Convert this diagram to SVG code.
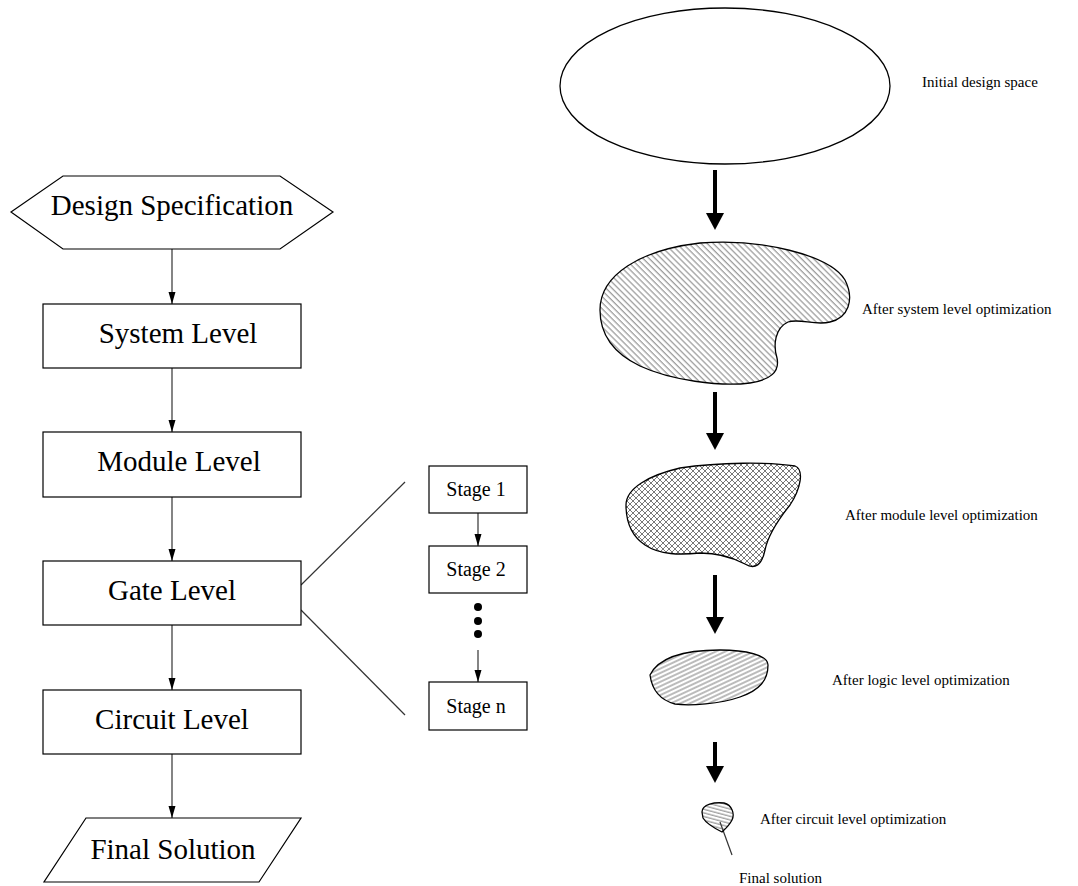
<svg xmlns="http://www.w3.org/2000/svg" width="1078" height="886" viewBox="0 0 1078 886">
<style>
.box{fill:#fff;stroke:#000;stroke-width:1.2}
.big{font-family:"Liberation Serif","Times New Roman",serif;font-size:29px;fill:#000;text-anchor:middle}
.stg{font-family:"Liberation Serif","Times New Roman",serif;font-size:20px;fill:#000;text-anchor:middle}
.lbl{font-family:"Liberation Serif","Times New Roman",serif;font-size:15px;fill:#000}
.thin{stroke:#333;stroke-width:1.2;fill:none}
.thick{stroke:#000;stroke-width:4;fill:none}
.blob{stroke:#000;stroke-width:1.3}
.h{stroke:#555;stroke-width:0.8}
</style>
<defs>
<marker id="ah" markerUnits="userSpaceOnUse" markerWidth="12" markerHeight="8" refX="12" refY="4" orient="auto"><path d="M0,0.5 L12,4 L0,7.5 z" fill="#000"/></marker>
<marker id="ahb" markerUnits="userSpaceOnUse" markerWidth="17" markerHeight="18" refX="0" refY="9" orient="auto"><path d="M0,0 L17,9 L0,18 z" fill="#000"/></marker>
<pattern id="p1" patternUnits="userSpaceOnUse" width="4.3" height="10" patternTransform="rotate(-45)"><line x1="1" y1="0" x2="1" y2="10" class="h"/></pattern>
<pattern id="p2" patternUnits="userSpaceOnUse" width="6" height="6"><path d="M0,0 L6,6 M6,0 L0,6" class="h"/></pattern>
<pattern id="p3" patternUnits="userSpaceOnUse" width="10" height="4" patternTransform="rotate(-25)"><line x1="0" y1="1" x2="10" y2="1" class="h"/></pattern>
<pattern id="p4" patternUnits="userSpaceOnUse" width="10" height="3.5" patternTransform="rotate(15)"><line x1="0" y1="1" x2="10" y2="1" class="h"/></pattern>
</defs>
<rect width="1078" height="886" fill="#fff"/>

<g id="connectors">
<line class="thin" x1="172" y1="249" x2="172" y2="304" marker-end="url(#ah)"/>
<line class="thin" x1="172" y1="368" x2="172" y2="432" marker-end="url(#ah)"/>
<line class="thin" x1="172" y1="497" x2="172" y2="561" marker-end="url(#ah)"/>
<line class="thin" x1="172" y1="625" x2="172" y2="690" marker-end="url(#ah)"/>
<line class="thin" x1="172" y1="754" x2="172" y2="818" marker-end="url(#ah)"/>
<line class="thin" x1="301" y1="585" x2="405" y2="482"/>
<line class="thin" x1="301" y1="610" x2="405" y2="715"/>
<line class="thin" x1="478" y1="513" x2="478" y2="546" marker-end="url(#ah)"/>
<line class="thin" x1="478" y1="650" x2="478" y2="682" marker-end="url(#ah)"/>
<line class="thick" x1="715" y1="170" x2="715" y2="213" marker-end="url(#ahb)"/>
<line class="thick" x1="715" y1="392" x2="715" y2="433" marker-end="url(#ahb)"/>
<line class="thick" x1="715" y1="575" x2="715" y2="617" marker-end="url(#ahb)"/>
<line class="thick" x1="715" y1="742" x2="715" y2="766" marker-end="url(#ahb)"/>
<line class="thin" x1="720" y1="822" x2="732" y2="855"/>
</g>

<g id="design-spec">
<polygon class="box" points="11,212 63,176 280,176 333,212 280,249 63,249"/>
<text class="big" x="172" y="215">Design Specification</text>
</g>
<g id="system-level">
<rect class="box" x="43" y="304" width="258" height="64"/>
<text class="big" x="178" y="343">System Level</text>
</g>
<g id="module-level">
<rect class="box" x="43" y="432" width="258" height="65"/>
<text class="big" x="179" y="471">Module Level</text>
</g>
<g id="gate-level">
<rect class="box" x="43" y="561" width="258" height="64"/>
<text class="big" x="172" y="600">Gate Level</text>
</g>
<g id="circuit-level">
<rect class="box" x="43" y="690" width="258" height="64"/>
<text class="big" x="172" y="729">Circuit Level</text>
</g>
<g id="final-solution">
<polygon class="box" points="86,818 301,818 259,882 44,882"/>
<text class="big" x="173" y="859">Final Solution</text>
</g>

<g id="stage-1">
<rect class="box" x="429" y="466" width="98" height="47"/>
<text class="stg" x="476" y="496">Stage 1</text>
</g>
<g id="stage-2">
<rect class="box" x="429" y="546" width="98" height="47"/>
<text class="stg" x="476" y="576">Stage 2</text>
</g>
<g id="stage-dots">
<circle cx="478" cy="607" r="4"/>
<circle cx="478" cy="621" r="4"/>
<circle cx="478" cy="634" r="4"/>
</g>
<g id="stage-n">
<rect class="box" x="429" y="682" width="98" height="48"/>
<text class="stg" x="476" y="713">Stage n</text>
</g>

<g id="initial-space">
<ellipse cx="725" cy="86" rx="165" ry="78" fill="#fff" stroke="#000" stroke-width="1.3"/>
<text class="lbl" x="922" y="87">Initial design space</text>
</g>
<g id="system-opt">
<path class="blob" fill="url(#p1)" d="M600,310 C600,275 640,250 700,243 C760,238 830,255 845,280 C855,300 848,318 830,322 C815,326 800,318 788,322 C775,328 773,345 777,358 C780,372 770,380 750,383 C720,387 670,380 640,366 C615,354 600,335 600,310 Z"/>
<text class="lbl" x="862" y="314">After system level optimization</text>
</g>
<g id="module-opt">
<path class="blob" fill="url(#p2)" d="M626,505 C626,488 650,475 680,468 C720,462 770,462 795,466 C805,470 800,490 790,505 C778,520 768,535 765,550 C762,565 755,570 745,564 C730,556 715,553 700,553 C680,555 660,555 645,545 C630,535 626,520 626,505 Z"/>
<text class="lbl" x="845" y="520">After module level optimization</text>
</g>
<g id="logic-opt">
<path class="blob" fill="url(#p3)" d="M650,675 C660,655 690,650 720,650 C745,650 768,655 768,665 C768,680 760,690 740,697 C720,704 690,706 675,704 C660,700 652,690 650,675 Z"/>
<text class="lbl" x="832" y="685">After logic level optimization</text>
</g>
<g id="circuit-opt">
<path class="blob" fill="url(#p4)" d="M702,812 C702,804 715,802 724,803 C732,805 735,814 732,820 C729,826 724,830 722,832 C714,828 706,823 703,818 Z"/>
<text class="lbl" x="760" y="824">After circuit level optimization</text>
</g>
<g id="final-point">
<text class="lbl" x="739" y="883">Final solution</text>
</g>
</svg>
